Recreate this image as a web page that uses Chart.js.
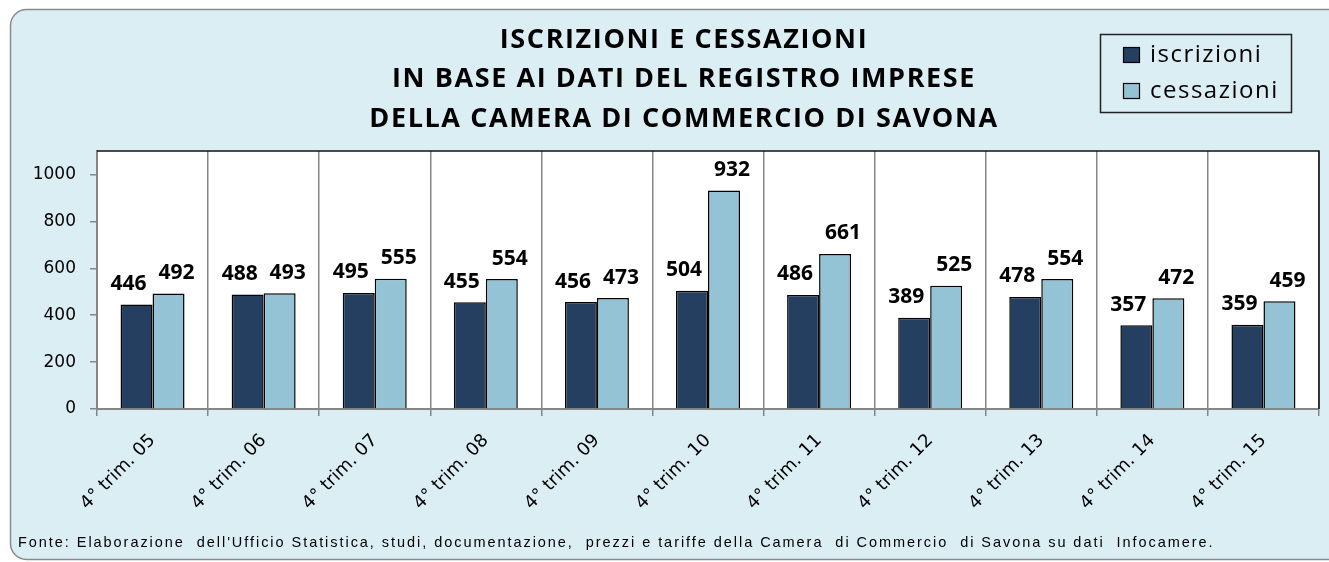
<!DOCTYPE html>
<html>
<head>
<meta charset="utf-8">
<script src="https://cdn.jsdelivr.net/npm/chart.js"></script>
<style>
  html, body { margin: 0; padding: 0; background: #fff; }
  #wrap { width: 1329px; height: 562px; }
</style>
</head>
<body>
<div id="wrap"><canvas id="barChart" width="1329" height="562"></canvas></div>
<script>
const categories = ['4° trim. 05', '4° trim. 06', '4° trim. 07', '4° trim. 08', '4° trim. 09',
  '4° trim. 10', '4° trim. 11', '4° trim. 12', '4° trim. 13', '4° trim. 14', '4° trim. 15'];
const iscrizioni = [446, 488, 495, 455, 456, 504, 486, 389, 478, 357, 359];
const cessazioni = [492, 493, 555, 554, 473, 932, 661, 525, 554, 472, 459];
const seriesNames = ['iscrizioni', 'cessazioni'];
const titleLines = [
  'ISCRIZIONI E CESSAZIONI',
  'IN BASE AI DATI DEL REGISTRO IMPRESE',
  'DELLA CAMERA DI COMMERCIO DI SAVONA'
];
const footerText = "Fonte: Elaborazione  dell'Ufficio Statistica, studi, documentazione,  prezzi e tariffe della Camera  di Commercio  di Savona su dati  Infocamere.";

const axisGrey = '#868686';

// frame, white plot area, borders, title, legend and footer
const decorations = {
  id: 'decorations',
  beforeDraw(chart) {
    const ctx = chart.ctx;
    const a = chart.chartArea;
    ctx.save();
    ctx.fillStyle = '#fff';
    ctx.fillRect(0, 0, chart.width, chart.height);
    ctx.beginPath();
    ctx.roundRect(10.5, 9.5, 1340, 550, 16);
    ctx.fillStyle = '#DBEEF4';
    ctx.fill();
    ctx.lineWidth = 1.5;
    ctx.strokeStyle = '#8a8a8a';
    ctx.stroke();
    ctx.fillStyle = '#fff';
    ctx.fillRect(a.left, a.top, a.right - a.left, a.bottom - a.top);
    ctx.restore();
  },
  afterDraw(chart) {
    const ctx = chart.ctx;
    const a = chart.chartArea;
    ctx.save();
    // top and right edge of the plot
    ctx.strokeStyle = '#111';
    ctx.lineWidth = 1.5;
    ctx.beginPath();
    ctx.moveTo(a.left, a.top);
    ctx.lineTo(a.right, a.top);
    ctx.lineTo(a.right, a.bottom);
    ctx.stroke();

    // title
    ctx.fillStyle = '#000';
    ctx.textAlign = 'center';
    ctx.textBaseline = 'middle';
    ctx.font = 'bold 27px "Open Sans"';
    ctx.letterSpacing = '1.6px';
    const ys = [40, 79.5, 119];
    titleLines.forEach((t, i) => ctx.fillText(t, 684, ys[i]));

    // legend
    ctx.letterSpacing = '1.5px';
    ctx.lineWidth = 1.5;
    ctx.strokeStyle = '#222';
    ctx.strokeRect(1100.5, 34.5, 191, 78);
    ctx.textAlign = 'left';
    ctx.font = '24px "Open Sans"';
    chart.data.datasets.forEach((ds, i) => {
      const y = 47 + i * 36;
      ctx.fillStyle = ds.backgroundColor;
      ctx.fillRect(1123, y, 17, 16);
      ctx.strokeStyle = '#000';
      ctx.lineWidth = 1.2;
      ctx.strokeRect(1123.5, y + 0.5, 16, 15);
      ctx.fillStyle = '#000';
      ctx.fillText(ds.label, 1150, y + 8);
    });

    // source note
    ctx.letterSpacing = '1.95px';
    ctx.font = '14.5px "Liberation Sans"';
    ctx.fillText(footerText, 18, 543);
    ctx.restore();
  },
  afterDatasetsDraw(chart) {
    const ctx = chart.ctx;
    ctx.save();
    ctx.font = 'bold 21px "Open Sans"';
    ctx.fillStyle = '#000';
    ctx.textAlign = 'center';
    ctx.textBaseline = 'bottom';
    chart.data.datasets.forEach((ds, i) => {
      const dx = i === 0 ? -8 : 8;
      chart.getDatasetMeta(i).data.forEach((bar, j) => {
        ctx.fillText(ds.data[j], bar.x + dx, bar.y - 10);
      });
    });
    ctx.restore();
  }
};

const ctx = document.querySelector('#barChart').getContext('2d');
const barChart = new Chart(ctx, {
  type: 'bar',
  data: {
    labels: categories,
    datasets: [{
      label: seriesNames[0],
      data: iscrizioni,
      backgroundColor: '#243F60', // navy
      borderColor: '#000',
      borderWidth: 1.5
    }, {
      label: seriesNames[1],
      data: cessazioni,
      backgroundColor: '#93C3D5', // light blue
      borderColor: '#000',
      borderWidth: 1.5
    }]
  },
  options: {
    responsive: false,
    animation: false,
    devicePixelRatio: 1,
    layout: {
      padding: { top: 151, left: 10, right: 10, bottom: 0 }
    },
    datasets: {
      bar: { categoryPercentage: 0.576, barPercentage: 1 }
    },
    scales: {
      x: {
        offset: true,
        afterFit(scale) { scale.height = 153; },
        grid: {
          offset: true,
          color: axisGrey,
          lineWidth: 1.5,
          tickLength: 7
        },
        border: { color: axisGrey, width: 2 },
        ticks: {
          autoSkip: false,
          minRotation: 45,
          maxRotation: 45,
          padding: 14,
          color: '#000',
          font: { family: '"DejaVu Sans"', size: 18 }
        }
      },
      y: {
        min: 0,
        max: 1100,
        afterFit(scale) { scale.width = 87; },
        afterBuildTicks(scale) {
          scale.ticks = scale.ticks.filter(t => t.value <= 1000);
        },
        grid: {
          drawOnChartArea: false,
          color: axisGrey,
          lineWidth: 1.5,
          tickLength: 7
        },
        border: { color: axisGrey, width: 2 },
        ticks: {
          stepSize: 200,
          padding: 14,
          color: '#000',
          font: { family: '"DejaVu Sans"', size: 17 },
          callback: value => String(value)
        }
      }
    },
    plugins: {
      legend: { display: false },
      title: { display: false },
      tooltip: { enabled: false }
    }
  },
  plugins: [decorations]
});
</script>
</body>
</html>
